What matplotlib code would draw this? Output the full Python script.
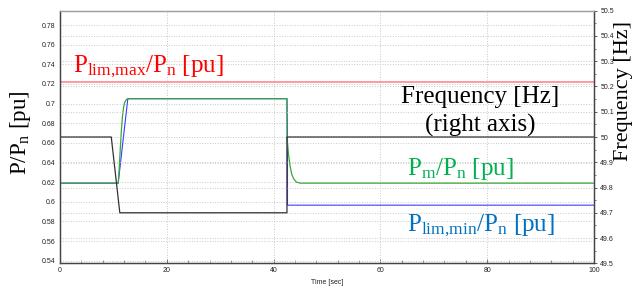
import numpy as np
import matplotlib
matplotlib.use("Agg")
import matplotlib.pyplot as plt
from matplotlib.ticker import MultipleLocator

# dados
t_freq = [0, 9.6, 11.2, 42.5, 42.5, 100]
freq = [50.0, 50.0, 49.7, 49.7, 50.0, 50.0]

t_pm = [0, 10.9, 11.1, 11.3, 11.5, 11.7, 11.9, 12.1, 12.4, 12.8,
        42.5, 42.5, 42.8, 43.1, 43.4, 43.8, 44.3, 45.0, 100]
pm = [0.619, 0.619, 0.635, 0.655, 0.673, 0.687, 0.696, 0.701, 0.704, 0.705,
      0.705, 0.666, 0.648, 0.636, 0.628, 0.623, 0.620, 0.619, 0.619]

t_plmin = [0, 10.9, 12.7, 42.5, 42.6, 42.6, 100]
plmin = [0.619, 0.619, 0.705, 0.705, 0.668, 0.5966, 0.5966]

t_plmax = [0, 100]
plmax = [0.7225, 0.7225]

W, H = 634, 289
plt.rcParams['mathtext.fontset'] = 'custom'
plt.rcParams['mathtext.rm'] = 'Liberation Serif'
plt.rcParams['mathtext.it'] = 'Liberation Serif:italic'
serif = 'Liberation Serif'
tickfont = ['Liberation Sans Narrow', 'Liberation Sans']

fig = plt.figure(figsize=(W / 100, H / 100), dpi=100)
ax = fig.add_axes([60 / W, 1 - 263.3 / H, (594 - 60) / W, (263.3 - 10.7) / H])
ax2 = ax.twinx()

ax.plot(t_plmax, plmax, color='#ff9a9a', lw=1.4, zorder=2)
ax.plot(t_plmin, plmin, color='#3a3aff', lw=0.8, zorder=3)
ax.plot(t_pm, pm, color='#3aa63a', lw=0.9, zorder=4)
ax2.plot(t_freq, freq, color='#333333', lw=0.9)

ax.set_xlim(0, 100)
ax.set_ylim(0.5374, 0.7946)
ax2.set_ylim(49.5, 50.5)

ax.xaxis.set_major_locator(MultipleLocator(20))
ax.xaxis.set_minor_locator(MultipleLocator(4))
ax2.yaxis.set_minor_locator(MultipleLocator(0.05))

yt_left = np.arange(0.54, 0.781, 0.02)
ax.set_yticks(yt_left)
ax.set_yticklabels([f"{v:.2f}".rstrip('0').rstrip('.') for v in yt_left])
yt_right = np.arange(49.5, 50.51, 0.1)
ax2.set_yticks(yt_right)
ax2.set_yticklabels([f"{v:.1f}".rstrip('0').rstrip('.') for v in yt_right])

for a in (ax, ax2):
    for lab in a.get_xticklabels() + a.get_yticklabels():
        lab.set_family(tickfont)
        lab.set_fontsize(5)
        lab.set_color('#222222')

ax.tick_params(axis='y', which='both', length=0, pad=3)
ax.tick_params(axis='x', which='major', direction='in', length=3, width=0.6, pad=3, color='#666666')
ax.tick_params(axis='x', which='minor', direction='in', length=2, width=0.5, color='#666666')
ax2.tick_params(axis='y', which='major', direction='out', length=2.5, width=0.6, pad=2, color='#444444')
ax2.tick_params(axis='y', which='minor', direction='out', length=1.5, width=0.5, color='#444444')

ax.grid(True, which='major', linestyle=':', color='#c8c8c8', lw=0.7)
ax2.grid(True, axis='y', which='major', linestyle=':', color='#c8c8c8', lw=0.7)
ax.set_axisbelow(True)

for a in (ax, ax2):
    for s in ('left', 'bottom', 'right'):
        a.spines[s].set_color('#444444')
        a.spines[s].set_linewidth(0.9)
    a.spines['top'].set_color('#a0a0a0')
    a.spines['top'].set_linewidth(0.9)


def px(x, y):
    return x / W, 1 - y / H


fig.text(*px(326.7, 283), 'Time [sec]', fontsize=5, family=tickfont,
         ha='center', va='center', color='#222222')

fig.text(*px(8, 133), r'$\mathrm{P/P_n\ [pu]}$', fontsize=16.5, rotation=90,
         ha='left', va='center', color='black')
fig.text(*px(614, 91), 'Frequency [Hz]', fontsize=16, family=serif, rotation=90,
         ha='left', va='center', color='black')

fig.text(*px(73, 71.7), r'$\mathrm{P_{lim{,}max}/P_n\ [pu]}$', fontsize=18,
         ha='left', va='baseline', color='#ff0000')
fig.text(*px(480.5, 103.3), 'Frequency [Hz]', fontsize=18, family=serif,
         ha='center', va='baseline', color='black')
fig.text(*px(480.5, 131.7), '(right axis)', fontsize=18, family=serif,
         ha='center', va='baseline', color='black')
fig.text(*px(406.7, 175), r'$\mathrm{P_m/P_n\ [pu]}$', fontsize=18,
         ha='left', va='baseline', color='#00b050')
fig.text(*px(407, 231), r'$\mathrm{P_{lim{,}min}/P_n\ [pu]}$', fontsize=18,
         ha='left', va='baseline', color='#0070c0')

fig.savefig('out.png', dpi=100)
